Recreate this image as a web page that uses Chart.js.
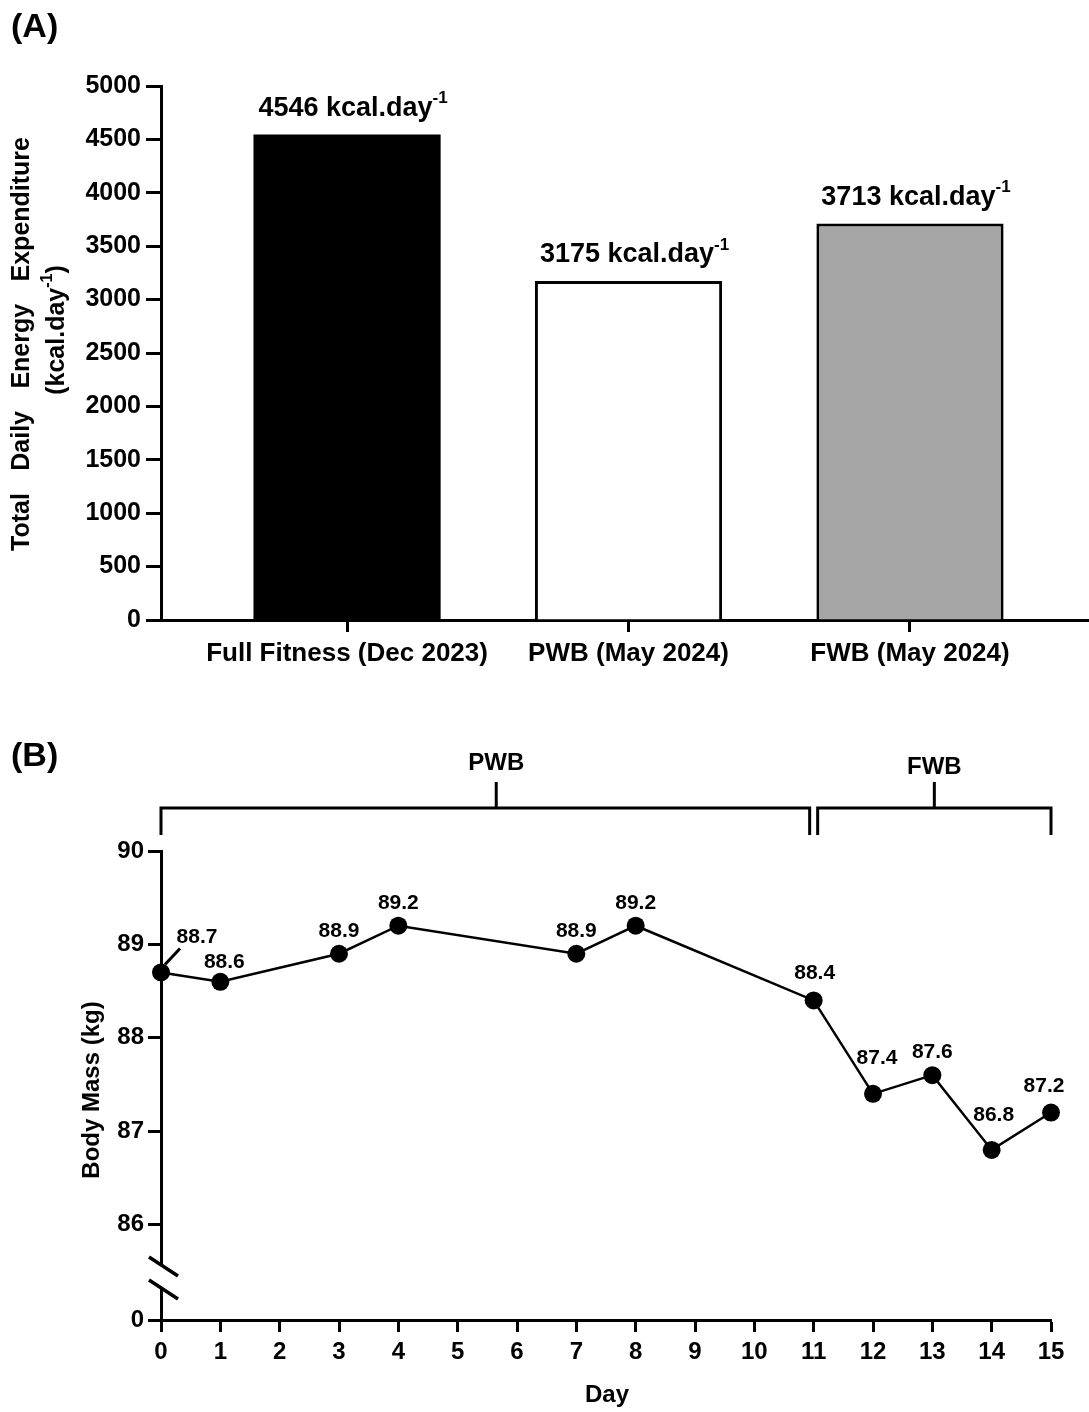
<!DOCTYPE html>
<html><head><meta charset="utf-8">
<script src="https://cdn.jsdelivr.net/npm/chart.js@4.4.1/dist/chart.umd.min.js"></script>
<style>
html,body{margin:0;padding:0;background:#fff;}
#wrapA{position:absolute;left:0;top:0;width:1089px;height:700px;}
#wrapB{position:absolute;left:0;top:700px;width:1089px;height:712px;}
canvas{display:block;}
</style></head><body>
<div id="wrapA"><canvas id="cA" width="1089" height="700"></canvas></div>
<div id="wrapB"><canvas id="cB" width="1089" height="712"></canvas></div>
<script>
// ---------- Panel A data ----------
const groups = ['Full Fitness (Dec 2023)', 'PWB (May 2024)', 'FWB (May 2024)'];
const tdee = [4546, 3175, 3713];
const barColors = ['#000000', '#ffffff', '#a6a6a6'];
const tdeeTicks = [0, 500, 1000, 1500, 2000, 2500, 3000, 3500, 4000, 4500, 5000];
const tdeeUnit = ' kcal.day';
const tdeeUnitSup = '-1';

// ---------- Panel B data ----------
const days = [0, 1, 3, 4, 7, 8, 11, 12, 13, 14, 15];
const bodyMass = [88.7, 88.6, 88.9, 89.2, 88.9, 89.2, 88.4, 87.4, 87.6, 86.8, 87.2];
const dayTicks = [0, 1, 2, 3, 4, 5, 6, 7, 8, 9, 10, 11, 12, 13, 14, 15];
const massTicks = [86, 87, 88, 89, 90];
const massLowTicks = [0];
const phaseNames = ['PWB', 'FWB'];
const phaseStart = [0, 11];
const phaseEnd = [11, 15];

const FONT = '"Liberation Sans", Arial, Helvetica, sans-serif';
const f = (s) => ({family: FONT, size: s, weight: 'bold'});

function drawWithSup(ctx, base, sup, cx, cy, size, supSize, rise) {
  ctx.font = `bold ${size}px ${FONT}`;
  const w1 = ctx.measureText(base).width;
  ctx.font = `bold ${supSize}px ${FONT}`;
  const w2 = ctx.measureText(sup).width;
  let x = cx - (w1 + w2) / 2;
  ctx.textAlign = 'left';
  ctx.textBaseline = 'middle';
  ctx.font = `bold ${size}px ${FONT}`;
  ctx.fillText(base, x, cy);
  ctx.font = `bold ${supSize}px ${FONT}`;
  ctx.fillText(sup, x + w1, cy - rise);
}

// ---------- Panel A ----------
const plugA = {
  id: 'plugA',
  afterDraw(chart) {
    const ctx = chart.ctx;
    const xs = chart.scales.x, ys = chart.scales.y;
    ctx.save();
    ctx.fillStyle = '#000';
    ctx.font = `bold 34px ${FONT}`;
    ctx.textAlign = 'left'; ctx.textBaseline = 'middle';
    ctx.fillText('(A)', 11, 28);
    tdee.forEach((v, i) => {
      const px = xs.getPixelForValue(i + 1) + 6;
      const py = ys.getPixelForValue(v) - 26;
      drawWithSup(ctx, v + tdeeUnit, tdeeUnitSup, px, py, 27, 17, 10);
    });
    ctx.translate(22, 344);
    ctx.rotate(-Math.PI / 2);
    ctx.font = `bold 25px ${FONT}`;
    ctx.textBaseline = 'middle';
    const words = ['Total', 'Daily', 'Energy', 'Expenditure'];
    const span = 414;
    const ws = words.map(w => ctx.measureText(w).width);
    const gap = (span - ws.reduce((a, b) => a + b, 0)) / (words.length - 1);
    let x = -span / 2;
    ctx.textAlign = 'left';
    words.forEach((w, i) => { ctx.fillText(w, x, 0); x += ws[i] + gap; });
    ctx.translate(0, 35);
    ctx.font = `bold 25px ${FONT}`;
    const a = ctx.measureText('(kcal.day').width;
    ctx.font = `bold 16px ${FONT}`;
    const b = ctx.measureText('-1').width;
    ctx.font = `bold 25px ${FONT}`;
    const c = ctx.measureText(')').width;
    let x2 = 14 - (a + b + c) / 2;
    ctx.fillText('(kcal.day', x2, 0);
    ctx.font = `bold 16px ${FONT}`;
    ctx.fillText('-1', x2 + a, -9);
    ctx.font = `bold 25px ${FONT}`;
    ctx.fillText(')', x2 + a + b, 0);
    ctx.restore();
  }
};

new Chart(document.getElementById('cA'), {
  type: 'bar',
  data: {
    datasets: [{
      data: groups.map((g, i) => ({x: i + 1, y: tdee[i]})),
      backgroundColor: barColors,
      borderColor: '#000',
      borderWidth: [0, 3, 3],
      borderSkipped: 'bottom',
      barPercentage: 0.665,
      categoryPercentage: 1
    }]
  },
  options: {
    responsive: false,
    animation: false,
    layout: {autoPadding: false, padding: {top: 86, right: 0, bottom: 0, left: 0}},
    plugins: {legend: {display: false}, tooltip: {enabled: false}},
    scales: {
      x: {
        type: 'linear', min: 0.339, max: 3.636, offset: false,
        afterBuildTicks(s) { s.ticks = groups.map((g, i) => ({value: i + 1})); },
        ticks: {callback: (v) => groups[Math.round(v) - 1], font: f(26), color: '#000', padding: 6, maxRotation: 0, autoSkip: false},
        grid: {display: true, offset: false, drawOnChartArea: false, drawTicks: true, tickLength: 12, tickWidth: 3, tickColor: '#000'},
        border: {display: true, color: '#000', width: 3},
        afterFit(s) { s.height = 80; }
      },
      y: {
        type: 'linear', min: 0, max: 5000,
        afterBuildTicks(s) { s.ticks = tdeeTicks.map(v => ({value: v})); },
        ticks: {callback: (v) => String(v), font: f(25), color: '#000', padding: 5},
        grid: {display: true, drawOnChartArea: false, drawTicks: true, tickLength: 15, tickWidth: 3, tickColor: '#000'},
        border: {display: true, color: '#000', width: 3},
        afterFit(s) { s.width = 161; }
      }
    }
  },
  plugins: [plugA]
});

// ---------- Panel B ----------
const labelOffsets = {0: [36, -35], 1: [4, -20], 6: [1, -27], 7: [4, -36], 9: [2, -35], 10: [-7, -26]};
const plugB = {
  id: 'plugB',
  afterDraw(chart) {
    const ctx = chart.ctx;
    const xs = chart.scales.x, ys = chart.scales.y;
    ctx.save();
    ctx.fillStyle = '#000';
    ctx.strokeStyle = '#000';
    ctx.font = `bold 34px ${FONT}`;
    ctx.textAlign = 'left'; ctx.textBaseline = 'middle';
    ctx.fillText('(B)', 11, 57);
    // axis break
    const axX = chart.chartArea.left;
    ctx.fillStyle = '#fff';
    ctx.fillRect(axX - 4, 566, 8, 23);
    ctx.fillStyle = '#000';
    ctx.lineWidth = 3.5;
    ctx.beginPath();
    ctx.moveTo(axX - 12, 557); ctx.lineTo(axX + 17, 576);
    ctx.moveTo(axX - 12, 580); ctx.lineTo(axX + 17, 599);
    ctx.stroke();
    // point labels
    ctx.font = `bold 21px ${FONT}`;
    ctx.textAlign = 'center'; ctx.textBaseline = 'middle';
    days.forEach((d, i) => {
      const px = xs.getPixelForValue(d), py = ys.getPixelForValue(bodyMass[i]);
      const off = labelOffsets[i] || [0, -23];
      ctx.fillText(bodyMass[i].toFixed(1), px + off[0], py + off[1]);
    });
    {
      const px = xs.getPixelForValue(days[0]), py = ys.getPixelForValue(bodyMass[0]);
      ctx.lineWidth = 3;
      ctx.beginPath();
      ctx.moveTo(px + 4, py - 8); ctx.lineTo(px + 19, py - 24);
      ctx.stroke();
    }
    // phase brackets
    ctx.lineWidth = 3;
    ctx.font = `bold 24px ${FONT}`;
    const by = 108, drop = 27, rise = 26;
    phaseNames.forEach((name, i) => {
      const x0 = xs.getPixelForValue(phaseStart[i]) + (i > 0 ? 4 : 0);
      const x1 = xs.getPixelForValue(phaseEnd[i]) - (i < phaseNames.length - 1 ? 4 : 0);
      const xm = i === 0 ? xs.getPixelForValue(5.65) : (x0 + x1) / 2;
      ctx.beginPath();
      ctx.moveTo(x0, by + drop); ctx.lineTo(x0, by); ctx.lineTo(x1, by); ctx.lineTo(x1, by + drop);
      ctx.moveTo(xm, by); ctx.lineTo(xm, by - rise);
      ctx.stroke();
      ctx.fillText(name, xm, i === 0 ? 63 : 67);
    });
    ctx.font = `bold 24px ${FONT}`;
    ctx.fillText('Day', 607, 695);
    ctx.translate(92, 390);
    ctx.rotate(-Math.PI / 2);
    ctx.fillText('Body Mass (kg)', 0, 0);
    ctx.restore();
  }
};

const tickCommon = {font: f(24), color: '#000', padding: 4};
const gridY = {display: true, drawOnChartArea: false, drawTicks: true, tickLength: 13, tickWidth: 3, tickColor: '#000'};

new Chart(document.getElementById('cB'), {
  type: 'line',
  data: {
    datasets: [{
      data: days.map((d, i) => ({x: d, y: bodyMass[i]})),
      yAxisID: 'y',
      borderColor: '#000',
      borderWidth: 2.5,
      backgroundColor: '#000',
      pointBackgroundColor: '#000',
      pointBorderColor: '#000',
      pointRadius: 9,
      pointBorderWidth: 0,
      tension: 0,
      clip: false
    }]
  },
  options: {
    responsive: false,
    animation: false,
    layout: {autoPadding: false, padding: {top: 151, right: 38, bottom: 0, left: 0}},
    plugins: {legend: {display: false}, tooltip: {enabled: false}},
    scales: {
      x: {
        type: 'linear', min: 0, max: 15,
        afterBuildTicks(s) { s.ticks = dayTicks.map(v => ({value: v})); },
        ticks: {font: f(24), color: '#000', padding: 6, maxRotation: 0, autoSkip: false},
        grid: {display: true, drawOnChartArea: false, drawTicks: true, tickLength: 12, tickWidth: 3, tickColor: '#000'},
        border: {display: true, color: '#000', width: 3},
        afterFit(s) { s.height = 92; }
      },
      yLow: {
        type: 'linear', position: 'left', stack: 'mass', stackWeight: 58, min: 0, max: 1,
        afterBuildTicks(s) { s.ticks = massLowTicks.map(v => ({value: v})); },
        ticks: tickCommon,
        grid: gridY,
        border: {display: true, color: '#000', width: 3},
        afterFit(s) { s.width = 161; }
      },
      y: {
        type: 'linear', position: 'left', stack: 'mass', stackWeight: 411, min: 85.6, max: 90,
        afterBuildTicks(s) { s.ticks = massTicks.map(v => ({value: v})); },
        ticks: tickCommon,
        grid: gridY,
        border: {display: true, color: '#000', width: 3},
        afterFit(s) { s.width = 161; }
      }
    }
  },
  plugins: [plugB]
});
</script>
</body></html>
